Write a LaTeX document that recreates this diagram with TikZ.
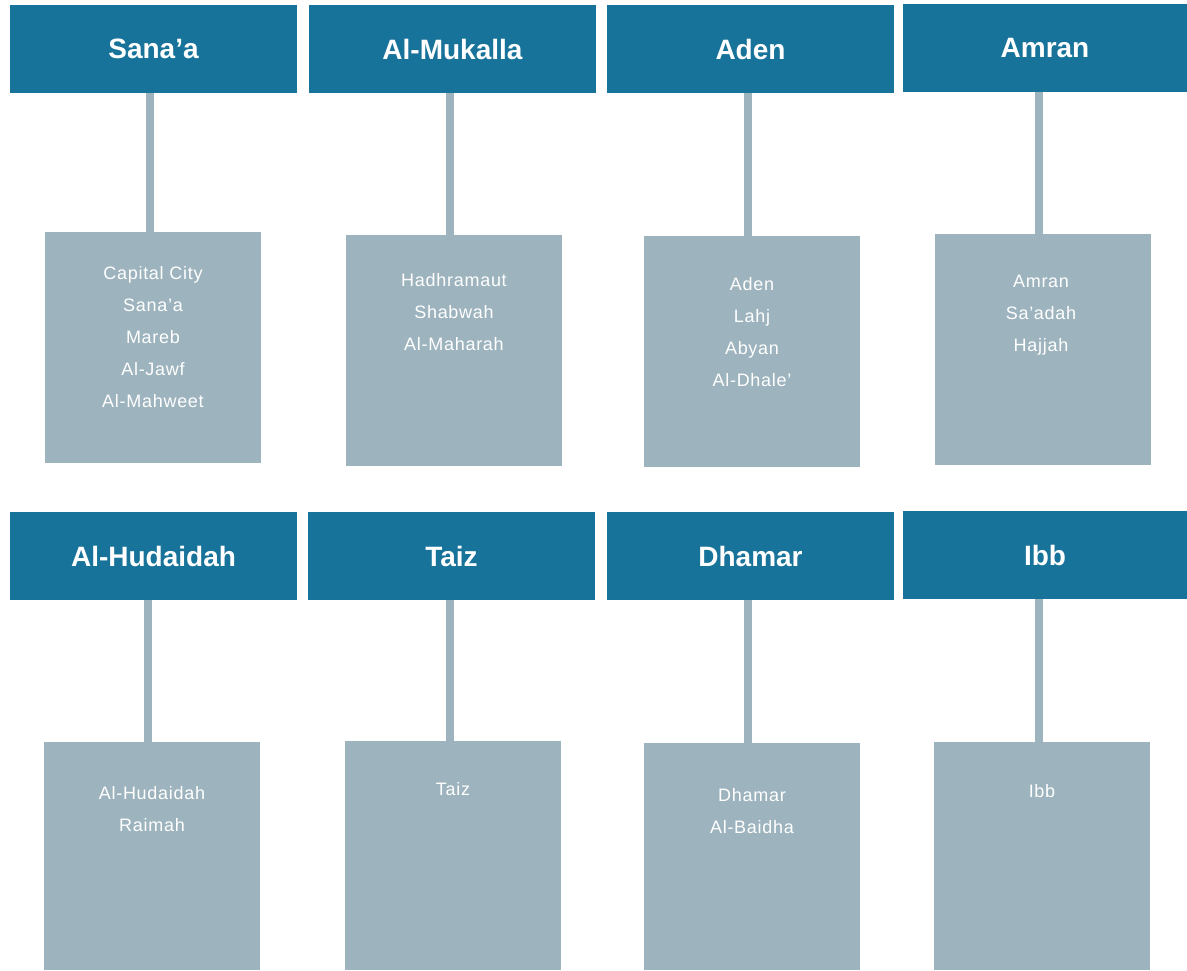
\documentclass[tikz,border=0pt]{standalone}
\usepackage{fontspec}
\setmainfont{Liberation Sans}
\definecolor{regionblue}{HTML}{17739A}
\definecolor{districtgray}{HTML}{9DB3BD}

\begin{document}
\begin{tikzpicture}
[x=1pt, y=-1pt, every node/.style={inner sep=0pt, outer sep=0pt},
 region/.style={rectangle, anchor=north west, minimum width=287pt, minimum height=88pt, fill=regionblue, text=white, font=\fontsize{28}{30}\selectfont\bfseries},
 districts/.style={rectangle, anchor=north west, minimum width=216pt, fill=districtgray},
 names/.style={anchor=north, align=center, text=white, font=\fontsize{18}{32}\selectfont\addfontfeature{LetterSpace=4}},
 link/.style={line width=8pt, color=districtgray}]
\useasboundingbox (0,0) rectangle (1187,970);
% top row
\node (sanaa) [region] at (10, 5) {Sana’a};
\node (mukalla) [region] at (309, 5) {Al-Mukalla};
\node (aden) [region] at (607, 5) {Aden};
\node (amran) [region, minimum width=284pt] at (903, 4) {Amran};
\node (sanaabox) [districts, minimum height=231pt] at (45, 232) {};
\node (mukallabox) [districts, minimum height=231pt] at (346, 235) {};
\node (adenbox) [districts, minimum height=231pt] at (644, 236) {};
\node (amranbox) [districts, minimum height=231pt] at (935, 234) {};
\node (sanaalist) [names] at (153, 266.5) {Capital City\\Sana’a\\Mareb\\Al-Jawf\\Al-Mahweet};
\node (mukallalist) [names] at (454, 273.5) {Hadhramaut\\Shabwah\\Al-Maharah};
\node (adenlist) [names] at (752, 277.5) {Aden\\Lahj\\Abyan\\Al-Dhale’};
\node (amranlist) [names] at (1041, 275.5) {Amran\\Sa’adah\\Hajjah};
% bottom row
\node (hudaidah) [region] at (10, 512) {Al-Hudaidah};
\node (taiz) [region] at (308, 512) {Taiz};
\node (dhamar) [region] at (607, 512) {Dhamar};
\node (ibb) [region, minimum width=284pt] at (903, 511) {Ibb};
\node (hudaidahbox) [districts, minimum height=228pt] at (44, 742) {};
\node (taizbox) [districts, minimum height=229pt] at (345, 741) {};
\node (dhamarbox) [districts, minimum height=227pt] at (644, 743) {};
\node (ibbbox) [districts, minimum height=228pt] at (934, 742) {};
\node (hudaidahlist) [names] at (152, 786.5) {Al-Hudaidah\\Raimah};
\node (taizlist) [names] at (453, 782.5) {Taiz};
\node (dhamarlist) [names] at (752, 788.5) {Dhamar\\Al-Baidha};
\node (ibblist) [names] at (1042, 784.5) {Ibb};
% links
\draw [link] (sanaa.south -| 150,0) -- (sanaabox.north -| 150,0);
\draw [link] (mukalla.south -| 450,0) -- (mukallabox.north -| 450,0);
\draw [link] (aden.south -| 748,0) -- (adenbox.north -| 748,0);
\draw [link] (amran.south -| 1039,0) -- (amranbox.north -| 1039,0);
\draw [link] (hudaidah.south -| 148,0) -- (hudaidahbox.north -| 148,0);
\draw [link] (taiz.south -| 450,0) -- (taizbox.north -| 450,0);
\draw [link] (dhamar.south -| 748,0) -- (dhamarbox.north -| 748,0);
\draw [link] (ibb.south -| 1039,0) -- (ibbbox.north -| 1039,0);
\end{tikzpicture}
\end{document}
